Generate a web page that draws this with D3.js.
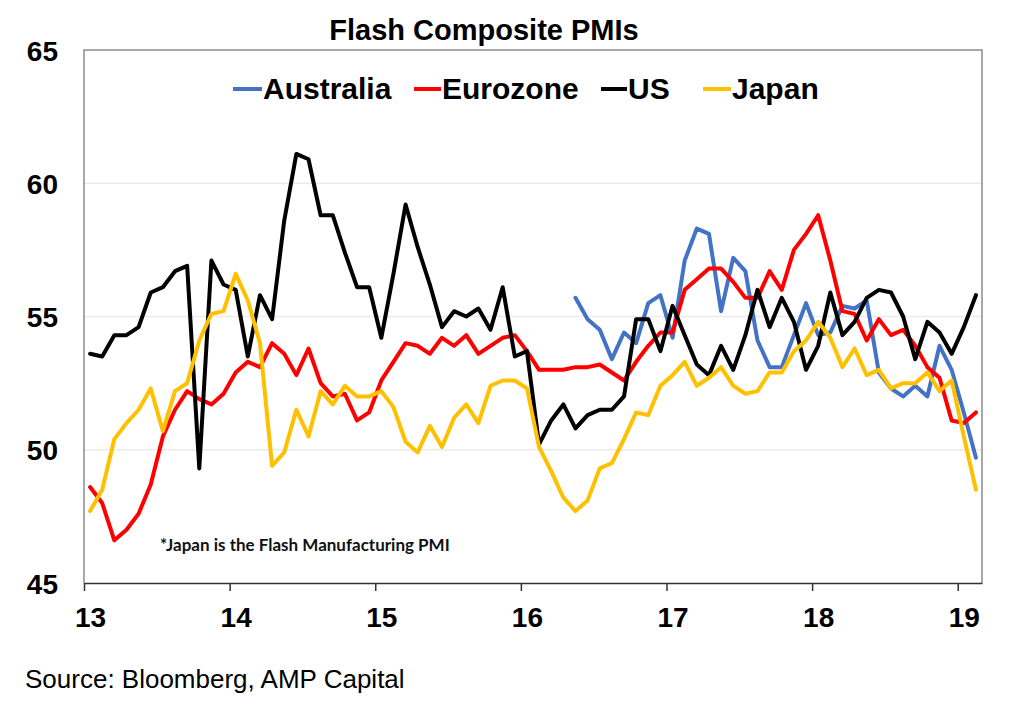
<!DOCTYPE html>
<html>
<head>
<meta charset="utf-8">
<script src="https://cdn.jsdelivr.net/npm/d3@7"></script>
<style>
  html, body { margin: 0; padding: 0; background: #fff; }
  svg { display: block; }
</style>
</head>
<body>
<svg id="chart" width="1024" height="710"></svg>
<script>
// ---- Data (monthly, Jan 2013 .. Feb 2019) ----
const startYear = 2013;
const monthCount = 74;
const yearTickLabels = ["13", "14", "15", "16", "17", "18", "19"];
const yTickValues = [45, 50, 55, 60, 65];

const seriesNames = ["Australia", "Eurozone", "US", "Japan"];
const seriesColors = ["#4472C4", "#FF0000", "#000000", "#FFC000"];

// Australia starts May 2016 (month index 40)
const australiaStart = 40;
const australia = [55.7, 54.9, 54.5, 53.4, 54.4, 54.0, 55.5, 55.8, 54.2, 57.1,
  58.3, 58.1, 55.2, 57.2, 56.7, 54.1, 53.1, 53.1, 54.3, 55.5,
  54.3, 54.4, 55.4, 55.3, 55.6, 52.9, 52.3, 52.0, 52.4, 52.0,
  53.9, 53.0, 51.4, 49.7];

const eurozone = [48.6, 48.0, 46.6, 47.0, 47.6, 48.7, 50.5, 51.5, 52.2, 51.9, 51.7, 52.1,
  52.9, 53.3, 53.1, 54.0, 53.6, 52.8, 53.8, 52.5, 52.0, 52.1, 51.1, 51.4,
  52.6, 53.3, 54.0, 53.9, 53.6, 54.2, 53.9, 54.3, 53.6, 53.9, 54.2, 54.3,
  53.7, 53.0, 53.0, 53.0, 53.1, 53.1, 53.2, 52.9, 52.6, 53.3, 53.9, 54.4,
  54.4, 56.0, 56.4, 56.8, 56.8, 56.3, 55.7, 55.7, 56.7, 56.0, 57.5, 58.1,
  58.8, 57.1, 55.2, 55.1, 54.1, 54.9, 54.3, 54.5, 53.9, 53.1, 52.7, 51.1,
  51.0, 51.4];

const us = [53.6, 53.5, 54.3, 54.3, 54.6, 55.9, 56.1, 56.7, 56.9, 49.3, 57.1, 56.2,
  56.0, 53.5, 55.8, 54.9, 58.6, 61.1, 60.9, 58.8, 58.8, 57.4, 56.1, 56.1,
  54.2, 56.6, 59.2, 57.6, 56.2, 54.6, 55.2, 55.0, 55.3, 54.5, 56.1, 53.5,
  53.7, 50.2, 51.1, 51.7, 50.8, 51.3, 51.5, 51.5, 52.0, 54.9, 54.9, 53.7,
  55.4, 54.3, 53.2, 52.8, 53.9, 53.0, 54.3, 56.0, 54.6, 55.7, 54.8, 53.0,
  53.9, 55.9, 54.3, 54.8, 55.7, 56.0, 55.9, 55.0, 53.4, 54.8, 54.4, 53.6,
  54.6, 55.8];

const japan = [47.7, 48.5, 50.4, 51.0, 51.5, 52.3, 50.7, 52.2, 52.5, 54.1, 55.1, 55.2,
  56.6, 55.6, 54.0, 49.4, 49.9, 51.5, 50.5, 52.2, 51.7, 52.4, 52.0, 52.0,
  52.2, 51.6, 50.3, 49.9, 50.9, 50.1, 51.2, 51.7, 51.0, 52.4, 52.6, 52.6,
  52.3, 50.1, 49.2, 48.2, 47.7, 48.1, 49.3, 49.5, 50.4, 51.4, 51.3, 52.4,
  52.8, 53.3, 52.4, 52.7, 53.1, 52.4, 52.1, 52.2, 52.9, 52.9, 53.7, 54.1,
  54.8, 54.2, 53.1, 53.8, 52.8, 53.0, 52.3, 52.5, 52.5, 52.9, 52.2, 52.6,
  50.5, 48.5];

const titleText = "Flash Composite PMIs";
const noteText = "*Japan is the Flash Manufacturing PMI";
const sourceText = "Source: Bloomberg, AMP Capital";

// ---- Build series as (monthIndex, value) pairs ----
const seriesData = [
  australia.map((v, i) => ({ m: i + australiaStart, v })),
  eurozone.map((v, i) => ({ m: i, v })),
  us.map((v, i) => ({ m: i, v })),
  japan.map((v, i) => ({ m: i, v }))
];

// ---- Layout ----
const plot = { left: 84, right: 982, top: 50, bottom: 583 };
const svg = d3.select("#chart");
const sans = "Liberation Sans, Arial, sans-serif";

const x = d3.scaleLinear().domain([0, monthCount]).range([plot.left, plot.right]);
const y = d3.scaleLinear().domain([45, 65]).range([plot.bottom, plot.top]);
const halfMonth = (x(1) - x(0)) / 2;

// gridlines
svg.append("g")
  .selectAll("line")
  .data(yTickValues.filter(v => v > 45 && v < 65))
  .join("line")
  .attr("x1", plot.left).attr("x2", plot.right)
  .attr("y1", d => y(d)).attr("y2", d => y(d))
  .attr("stroke", "#ebebeb").attr("stroke-width", 1.5);

// plot border (top/right/left)
svg.append("path")
  .attr("d", `M${plot.left},${plot.bottom} V${plot.top} H${plot.right} V${plot.bottom}`)
  .attr("fill", "none").attr("stroke", "#8c8c8c").attr("stroke-width", 1.5);

// y axis labels
const yAxis = d3.axisLeft(y).tickValues(yTickValues).tickSize(0).tickFormat(d3.format("d"));
const gy = svg.append("g").attr("transform", `translate(${plot.left},0)`).call(yAxis);
gy.select(".domain").remove();
gy.selectAll("text")
  .attr("x", -26)
  .attr("dy", "0.36em")
  .attr("font-family", sans)
  .attr("font-weight", "bold")
  .attr("font-size", 28)
  .attr("fill", "#000");

// x axis
const yearTicks = yearTickLabels.map((_, k) => k * 12);
const xAxis = d3.axisBottom(x).tickValues(yearTicks).tickSize(8).tickSizeOuter(0)
  .tickFormat((d, k) => yearTickLabels[k]);
const gx = svg.append("g").attr("transform", `translate(0,${plot.bottom})`).call(xAxis);
gx.select(".domain").attr("stroke", "#333").attr("stroke-width", 1.5);
gx.selectAll(".tick line").attr("stroke", "#333").attr("stroke-width", 1.5);
gx.selectAll("text")
  .attr("x", halfMonth)
  .attr("y", 44)
  .attr("dy", 0)
  .attr("font-family", sans)
  .attr("font-weight", "bold")
  .attr("font-size", 28)
  .attr("fill", "#000");

// lines
const line = d3.line()
  .x(d => x(d.m + 0.5))
  .y(d => y(d.v));

svg.append("g")
  .selectAll("path")
  .data(seriesData)
  .join("path")
  .attr("d", d => line(d))
  .attr("fill", "none")
  .attr("stroke", (d, i) => seriesColors[i])
  .attr("stroke-width", 4)
  .attr("stroke-linejoin", "round")
  .attr("stroke-linecap", "round");

// title
svg.append("text")
  .attr("x", 484).attr("y", 40)
  .attr("text-anchor", "middle")
  .attr("font-family", sans)
  .attr("font-weight", "bold")
  .attr("font-size", 29)
  .text(titleText);

// legend
const legendItems = [
  { x: 233, w: 29 },
  { x: 414, w: 27 },
  { x: 601, w: 26 },
  { x: 703, w: 28 }
];
const lg = svg.append("g");
seriesNames.forEach((name, i) => {
  const it = legendItems[i];
  lg.append("line")
    .attr("x1", it.x).attr("x2", it.x + it.w)
    .attr("y1", 89).attr("y2", 89)
    .attr("stroke", seriesColors[i]).attr("stroke-width", 4);
  lg.append("text")
    .attr("x", it.x + it.w + 1).attr("y", 99)
    .attr("font-family", sans)
    .attr("font-weight", "bold")
    .attr("font-size", 30)
    .text(name);
});

// note
svg.append("text")
  .attr("x", 160).attr("y", 551)
  .attr("font-family", "Lato, 'Open Sans', sans-serif")
  .attr("font-weight", "bold")
  .attr("font-size", 17)
  .attr("fill", "#111")
  .text(noteText);

// source
svg.append("text")
  .attr("x", 25).attr("y", 688)
  .attr("font-family", sans)
  .attr("font-size", 26)
  .attr("fill", "#000")
  .text(sourceText);
</script>
</body>
</html>
